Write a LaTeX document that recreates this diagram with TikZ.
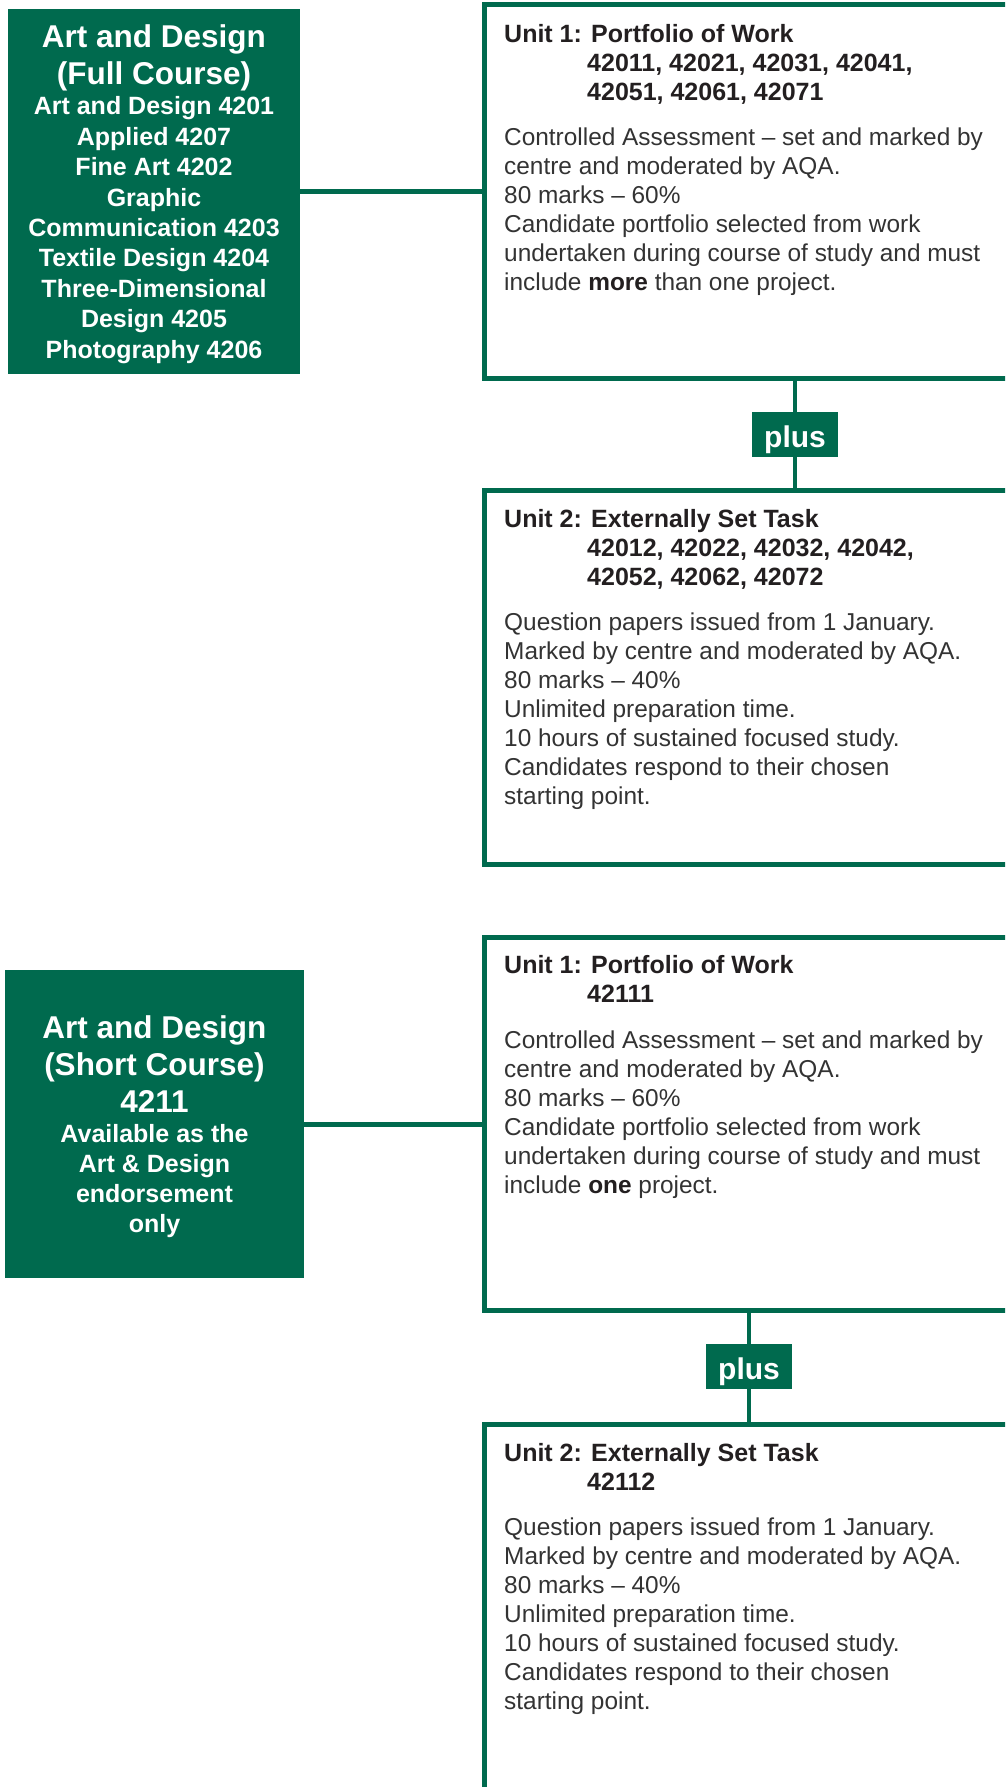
\documentclass[tikz,border=0pt]{standalone}
\usepackage{fontspec}
\setmainfont{Liberation Sans}
\definecolor{aqagreen}{RGB}{0,106,78}
\definecolor{headc}{HTML}{231F20}
\definecolor{bodyc}{HTML}{333333}
\begin{document}
\begin{tikzpicture}[x=1pt,y=-1pt,
  greenbox/.style={fill=aqagreen, draw=none, inner sep=0pt, outer sep=0pt},
  unitbox/.style={draw=aqagreen, line width=5pt, inner sep=0pt, outer sep=0pt, minimum width=535.5pt},
  conn/.style={draw=aqagreen, line width=5pt},
  vconn/.style={draw=aqagreen, line width=4.5pt},
  plusbox/.style={fill=aqagreen, text=white, font=\fontsize{30}{36}\bfseries\selectfont, inner xsep=0pt, inner ysep=0pt, minimum width=86pt, text height=35pt, text depth=10pt, anchor=base},
  titletxt/.style={text=white, font=\fontsize{31.5}{37}\bfseries\selectfont, anchor=base, inner sep=0pt},
  subtxt/.style={text=white, font=\fontsize{25}{30}\bfseries\selectfont, anchor=base, inner sep=0pt},
  headtxt/.style={text=headc, font=\fontsize{25}{29}\bfseries\selectfont, anchor=base west, inner sep=0pt},
  bodytxt/.style={text=bodyc, font=\fontsize{24.4}{29}\selectfont, anchor=base west, inner sep=0pt},
]
\clip (0,0) rectangle (1005,1787);
\fill[white] (0,0) rectangle (1005,1787);

% green course boxes
\node[greenbox, minimum width=292pt, minimum height=365pt] (g1) at (154,191.5) {};
\node[greenbox, minimum width=299pt, minimum height=308pt] (g2) at (154.5,1124) {};

% unit boxes
\node[unitbox, minimum height=374pt] (u1) at (752.25,191.5) {};
\node[unitbox, minimum height=374pt] (u2) at (752.25,677.5) {};
\node[unitbox, minimum height=373pt] (u3) at (752.25,1124) {};
\node[unitbox, minimum height=375.5pt] (u4) at (752.25,1612.25) {};

% plus labels
\node[plusbox] (p1) at (795,447) {plus};
\node[plusbox] (p2) at (749,1379) {plus};

% connectors
\draw[conn] (g1.east) -- (u1.west);
\draw[conn] (g2.east) -- (u3.west);
\draw[vconn] (p1.north) -- (p1.north |- u1.south);
\draw[vconn] (p1.south) -- (p1.south |- u2.north);
\draw[vconn] (p2.north) -- (p2.north |- u3.south);
\draw[vconn] (p2.south) -- (p2.south |- u4.north);

% full course text
\node[titletxt] (g1t1) at (154,48) {Art and Design};
\node[titletxt] (g1t2) at (154,85) {(Full Course)};
\node[subtxt] (g1s1) at (154,115) {Art and Design 4201};
\node[subtxt] (g1s2) at (154,145.4) {Applied 4207};
\node[subtxt] (g1s3) at (154,175.8) {Fine Art 4202};
\node[subtxt] (g1s4) at (154,206.1) {Graphic};
\node[subtxt] (g1s5) at (154,236.5) {Communication 4203};
\node[subtxt] (g1s6) at (154,266.9) {Textile Design 4204};
\node[subtxt] (g1s7) at (154,297.3) {Three-Dimensional};
\node[subtxt] (g1s8) at (154,327.6) {Design 4205};
\node[subtxt] (g1s9) at (154,358) {Photography 4206};

% short course text
\node[titletxt] (g2t1) at (154.5,1038) {Art and Design};
\node[titletxt] (g2t2) at (154.5,1075) {(Short Course)};
\node[titletxt] (g2t3) at (154.5,1112) {4211};
\node[subtxt] (g2s1) at (154.5,1142) {Available as the};
\node[subtxt] (g2s2) at (154.5,1172) {Art \& Design};
\node[subtxt] (g2s3) at (154.5,1202) {endorsement};
\node[subtxt] (g2s4) at (154.5,1232) {only};

% unit 1 (full)
\node[headtxt] (u1h1) at (504,42.5) {Unit 1: Portfolio of Work};
\node[headtxt] (u1h2) at (587,71.5) {42011, 42021, 42031, 42041,};
\node[headtxt] (u1h3) at (587,100.5) {42051, 42061, 42071};
\node[bodytxt] (u1b1) at (504,145.5) {Controlled Assessment – set and marked by};
\node[bodytxt] (u1b2) at (504,174.5) {centre and moderated by AQA.};
\node[bodytxt] (u1b3) at (504,203.5) {80 marks – 60\%};
\node[bodytxt] (u1b4) at (504,232.5) {Candidate portfolio selected from work};
\node[bodytxt] (u1b5) at (504,261.5) {undertaken during course of study and must};
\node[bodytxt] (u1b6) at (504,290.5) {include {\bfseries\color{headc}more} than one project.};

% unit 2 (full)
\node[headtxt] (u2h1) at (504,527) {Unit 2: Externally Set Task};
\node[headtxt] (u2h2) at (587,556) {42012, 42022, 42032, 42042,};
\node[headtxt] (u2h3) at (587,585) {42052, 42062, 42072};
\node[bodytxt] (u2b1) at (504,630.5) {Question papers issued from 1 January.};
\node[bodytxt] (u2b2) at (504,659.5) {Marked by centre and moderated by AQA.};
\node[bodytxt] (u2b3) at (504,688.5) {80 marks – 40\%};
\node[bodytxt] (u2b4) at (504,717.5) {Unlimited preparation time.};
\node[bodytxt] (u2b5) at (504,746.5) {10 hours of sustained focused study.};
\node[bodytxt] (u2b6) at (504,775.5) {Candidates respond to their chosen};
\node[bodytxt] (u2b7) at (504,804.5) {starting point.};

% unit 1 (short)
\node[headtxt] (u3h1) at (504,973.5) {Unit 1: Portfolio of Work};
\node[headtxt] (u3h2) at (587,1002.5) {42111};
\node[bodytxt] (u3b1) at (504,1048) {Controlled Assessment – set and marked by};
\node[bodytxt] (u3b2) at (504,1077) {centre and moderated by AQA.};
\node[bodytxt] (u3b3) at (504,1106) {80 marks – 60\%};
\node[bodytxt] (u3b4) at (504,1135) {Candidate portfolio selected from work};
\node[bodytxt] (u3b5) at (504,1164) {undertaken during course of study and must};
\node[bodytxt] (u3b6) at (504,1193) {include {\bfseries\color{headc}one} project.};

% unit 2 (short)
\node[headtxt] (u4h1) at (504,1461) {Unit 2: Externally Set Task};
\node[headtxt] (u4h2) at (587,1490) {42112};
\node[bodytxt] (u4b1) at (504,1535.5) {Question papers issued from 1 January.};
\node[bodytxt] (u4b2) at (504,1564.5) {Marked by centre and moderated by AQA.};
\node[bodytxt] (u4b3) at (504,1593.5) {80 marks – 40\%};
\node[bodytxt] (u4b4) at (504,1622.5) {Unlimited preparation time.};
\node[bodytxt] (u4b5) at (504,1651.5) {10 hours of sustained focused study.};
\node[bodytxt] (u4b6) at (504,1680.5) {Candidates respond to their chosen};
\node[bodytxt] (u4b7) at (504,1709.5) {starting point.};
\end{tikzpicture}
\end{document}
